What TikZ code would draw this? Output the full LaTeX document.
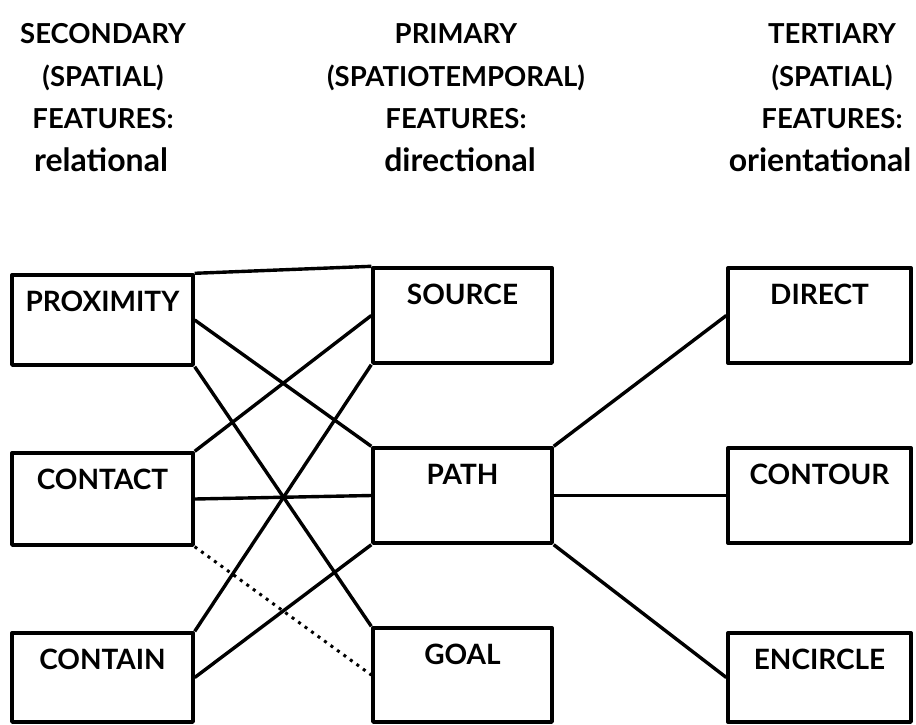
\documentclass[tikz,border=0pt]{standalone}
\usepackage{fontspec}
\setmainfont{Lato}
\begin{document}
\begin{tikzpicture}[x=1pt,y=-1pt,
  box/.style={draw,line width=3.4pt,rectangle,inner sep=0pt,line join=round},
  lbl/.style={anchor=base,inner sep=0pt,font=\bfseries\fontsize{28}{28}\selectfont},
  hdr/.style={anchor=base,inner sep=0pt,font=\bfseries\fontsize{27.5}{27.5}\selectfont},
  hdl/.style={anchor=base,inner sep=0pt,font=\bfseries\fontsize{32}{32}\selectfont},
  conn/.style={line width=3.4pt},
  dots/.style={line width=3pt,dash pattern=on 3pt off 5pt}]
\useasboundingbox (0,0) rectangle (916,724);
% headers
\node[hdr] (h1a) at (103,43) {SECONDARY};
\node[hdr] (h1b) at (103,86) {(SPATIAL)};
\node[hdr] (h1c) at (103,128) {FEATURES:};
\node[hdl] (h1d) at (101,171) {relational};
\node[hdr] (h2a) at (456,43) {PRIMARY};
\node[hdr] (h2b) at (456,86) {(SPATIOTEMPORAL)};
\node[hdr] (h2c) at (456,128) {FEATURES:};
\node[hdl] (h2d) at (460,171) {directional};
\node[hdr] (h3a) at (832,43) {TERTIARY};
\node[hdr] (h3b) at (832,86) {(SPATIAL)};
\node[hdr] (h3c) at (832,128) {FEATURES:};
\node[hdl] (h3d) at (820,171) {orientational};
% boxes
\node[box,minimum width=181pt,minimum height=90pt] (prox) at (102.5,320) {};
\node[box,minimum width=181pt,minimum height=92pt] (contact) at (102.5,499) {};
\node[box,minimum width=181pt,minimum height=89pt] (contain) at (102.5,677.5) {};
\node[box,minimum width=179pt,minimum height=95pt] (source) at (462.5,315.5) {};
\node[box,minimum width=179pt,minimum height=95pt] (path) at (462.5,495.5) {};
\node[box,minimum width=179pt,minimum height=94pt] (goal) at (462.5,675) {};
\node[box,minimum width=183pt,minimum height=95pt] (direct) at (819.5,315.5) {};
\node[box,minimum width=183pt,minimum height=95pt] (contour) at (819.5,495.5) {};
\node[box,minimum width=183pt,minimum height=89pt] (encircle) at (819.5,677.5) {};
% labels
\node[lbl] (proxT) at ([yshift=-38pt]prox.north) {PROXIMITY};
\node[lbl] (contactT) at ([yshift=-38pt]contact.north) {CONTACT};
\node[lbl] (containT) at ([yshift=-38pt]contain.north) {CONTAIN};
\node[lbl] (sourceT) at ([yshift=-38pt]source.north) {SOURCE};
\node[lbl] (pathT) at ([yshift=-38pt]path.north) {PATH};
\node[lbl] (goalT) at ([yshift=-38pt]goal.north) {GOAL};
\node[lbl] (directT) at ([yshift=-38pt]direct.north) {DIRECT};
\node[lbl] (contourT) at ([yshift=-38pt]contour.north) {CONTOUR};
\node[lbl] (encircleT) at ([yshift=-38pt]encircle.north) {ENCIRCLE};
% connectors
\draw[conn] (prox.north east) -- (source.north west);
\draw[conn] (prox.east) -- (path.north west);
\draw[conn] (prox.south east) -- (goal.north west);
\draw[conn] (contact.north east) -- (source.west);
\draw[conn] (contact.east) -- (path.west);
\draw[conn] (contain.north east) -- (source.south west);
\draw[conn] (contain.east) -- (path.south west);
\draw[dots] (contact.south east) -- (goal.west);
\draw[conn] (path.north east) -- (direct.west);
\draw[conn] (path.east) -- (contour.west);
\draw[conn] (path.south east) -- (encircle.west);
\end{tikzpicture}
\end{document}
